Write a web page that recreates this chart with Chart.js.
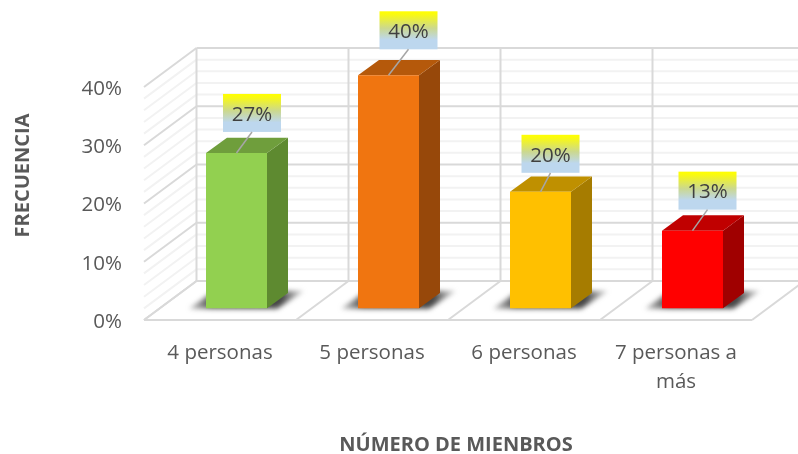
<!DOCTYPE html>
<html>
<head>
<meta charset="utf-8">
<style>html,body{margin:0;padding:0;background:#fff}canvas{display:block}</style>
<script src="https://cdn.jsdelivr.net/npm/chart.js@4"></script>
</head>
<body>
<canvas id="c" width="798" height="454"></canvas>
<script>
const categories = ['4 personas', '5 personas', '6 personas', ['7 personas a', 'más']];
const frecuencia = [26.67, 40, 20, 13.33];
const valueLabels = ['27%', '40%', '20%', '13%'];
const frontColors = ['#92D050', '#F07510', '#FFC000', '#FF0000'];
const topColors = ['#6F9E3C', '#B5590B', '#BF9000', '#C00000'];
const sideColors = ['#5E8A30', '#97480A', '#A67C00', '#A00000'];
const labelShift = [[15.5, 21], [20, 26], [10, 19], [15, 21]];

const FONT = '"Open Sans", sans-serif';
const WALL = {dx: 52.5, dy: -39};
const BAR = {dx: 16.5, dy: -11.7, sideX: 21, sideY: -15.3};

const scene = {
  id: 'scene',
  beforeDraw(chart) {
    const x = chart.scales.x, y = chart.scales.y;
    if (!y._shifted) {
      y._shifted = true;
      const oy = y.drawTitle.bind(y), ox = x.drawTitle.bind(x), ol = y.drawLabels.bind(y), c = chart.ctx;
      y.drawTitle = a => { c.save(); c.translate(11, -28); oy(a); c.restore(); };
      x.drawTitle = a => { c.save(); c.translate(8, 3); ox(a); c.restore(); };
      y.drawLabels = a => { c.save(); c.translate(0, 2); ol(a); c.restore(); };
    }
  },
  beforeDatasetsDraw(chart) {
    const c = chart.ctx, x = chart.scales.x, y = chart.scales.y, W = chart.width;
    const L = x.left, R = x.right, B = y.getPixelForValue(0);
    const line = (a, b, p, q, col, w) => {
      c.strokeStyle = col; c.lineWidth = w;
      c.beginPath(); c.moveTo(a, b); c.lineTo(p, q); c.stroke();
    };
    c.save();
    for (let v = 0; v <= 40; v += 2) {
      if (v % 10 === 0) continue;
      const py = y.getPixelForValue(v);
      line(L, py, L + WALL.dx, py + WALL.dy, '#F2F2F2', 2);
      line(L + WALL.dx, py + WALL.dy, W, py + WALL.dy, '#F2F2F2', 2);
    }
    for (let v = 0; v <= 40; v += 10) {
      const py = y.getPixelForValue(v);
      line(L, py, L + WALL.dx, py + WALL.dy, '#D9D9D9', 2);
      line(L + WALL.dx, py + WALL.dy, W, py + WALL.dy, '#D9D9D9', 2);
    }
    const step = (R - L) / categories.length;
    const T = y.getPixelForValue(40);
    for (let i = 0; i <= categories.length; i++) {
      const fx = L + i * step;
      line(fx, B, fx + WALL.dx, B + WALL.dy, '#D9D9D9', 2);
      line(fx + WALL.dx, B + WALL.dy, fx + WALL.dx, T + WALL.dy, '#D9D9D9', 2);
    }
    line(L, B, R, B, '#D9D9D9', 2);
    const bars = chart.getDatasetMeta(0).data;
    bars.forEach((b, i) => {
      const hw = b.width / 2;
      const l = b.x - hw + BAR.dx, r = b.x + hw + BAR.dx;
      const t = b.y + BAR.dy, bot = b.base + BAR.dy;
      c.save();
      c.filter = 'blur(2.5px)';
      const g = c.createLinearGradient(l - 18, 0, r + 38, 0);
      g.addColorStop(0, 'rgba(90,90,90,0.35)');
      g.addColorStop(0.2, 'rgba(50,50,50,0.85)');
      g.addColorStop(0.8, 'rgba(60,60,60,0.95)');
      g.addColorStop(1, 'rgba(130,130,130,0.3)');
      c.fillStyle = g;
      c.beginPath();
      c.moveTo(l - 17, bot + 0.5);
      c.lineTo(r + 10, bot + 0.5);
      c.lineTo(r + 37, bot + BAR.sideY - 2);
      c.lineTo(l + 8, bot + BAR.sideY - 2);
      c.closePath();
      c.fill();
      c.restore();
      c.fillStyle = sideColors[i];
      c.beginPath();
      c.moveTo(r, t); c.lineTo(r + BAR.sideX, t + BAR.sideY);
      c.lineTo(r + BAR.sideX, bot + BAR.sideY); c.lineTo(r, bot);
      c.closePath(); c.fill();
      c.fillStyle = topColors[i];
      c.beginPath();
      c.moveTo(l, t); c.lineTo(l + BAR.sideX, t + BAR.sideY);
      c.lineTo(r + BAR.sideX, t + BAR.sideY); c.lineTo(r, t);
      c.closePath(); c.fill();
    });
    c.restore();
    c.save();
    c.translate(BAR.dx, BAR.dy);
  },
  afterDatasetsDraw(chart) {
    const c = chart.ctx;
    c.restore();
    const bars = chart.getDatasetMeta(0).data;
    bars.forEach((b, i) => {
      const cx = b.x + BAR.dx, top = b.y + BAR.dy;
      const [sx, sy] = labelShift[i];
      const boxW = 58, boxH = 38;
      const bx = cx + sx - boxW / 2, by = top - sy - boxH;
      c.save();
      const g = c.createLinearGradient(0, by, 0, by + boxH);
      g.addColorStop(0, '#FFFF00');
      g.addColorStop(0.08, '#FAFA10');
      g.addColorStop(0.45, '#CBD890');
      g.addColorStop(0.75, '#BDD7EE');
      g.addColorStop(1, '#BDD7EE');
      c.fillStyle = g;
      c.fillRect(bx, by, boxW, boxH);
      c.strokeStyle = '#A6A6A6'; c.lineWidth = 1.5;
      c.beginPath(); c.moveTo(cx, top); c.lineTo(cx + sx, top - sy); c.stroke();
      c.fillStyle = '#404040';
      c.font = '20.5px ' + FONT;
      c.textAlign = 'center'; c.textBaseline = 'middle';
      c.fillText(valueLabels[i], cx + sx, by + 21);
      c.restore();
    });
  }
};

new Chart(document.getElementById('c'), {
  type: 'bar',
  data: {
    labels: categories,
    datasets: [{
      data: frecuencia,
      backgroundColor: frontColors,
      borderWidth: 0,
      categoryPercentage: 1,
      barPercentage: 61 / 152,
      clip: false
    }]
  },
  plugins: [scene],
  options: {
    responsive: false,
    animation: false,
    layout: {padding: {top: 87, right: 46, left: 0, bottom: 0}},
    plugins: {legend: {display: false}, tooltip: {enabled: false}, title: {display: false}},
    scales: {
      y: {
        min: 0, max: 40,
        afterFit(s) { s.width = 144; },
        grid: {display: false},
        border: {display: false},
        ticks: {
          stepSize: 10, padding: 14, color: '#595959',
          font: {family: FONT, size: 20.5},
          callback: v => v + '%'
        },
        title: {display: true, text: 'FRECUENCIA', color: '#595959', font: {family: FONT, size: 20, weight: 'bold'}, padding: {top: 0, bottom: 0}}
      },
      x: {
        afterFit(s) { s.height = 134; },
        grid: {display: false},
        border: {display: false},
        ticks: {
          padding: 11, color: '#595959', maxRotation: 0, autoSkip: false,
          font: {family: FONT, size: 20.5, lineHeight: 1.4}
        },
        title: {display: true, text: 'NÚMERO DE MIENBROS', color: '#595959', font: {family: FONT, size: 20, weight: 'bold'}, padding: {top: 0, bottom: 0}}
      }
    }
  }
});
</script>
</body>
</html>
